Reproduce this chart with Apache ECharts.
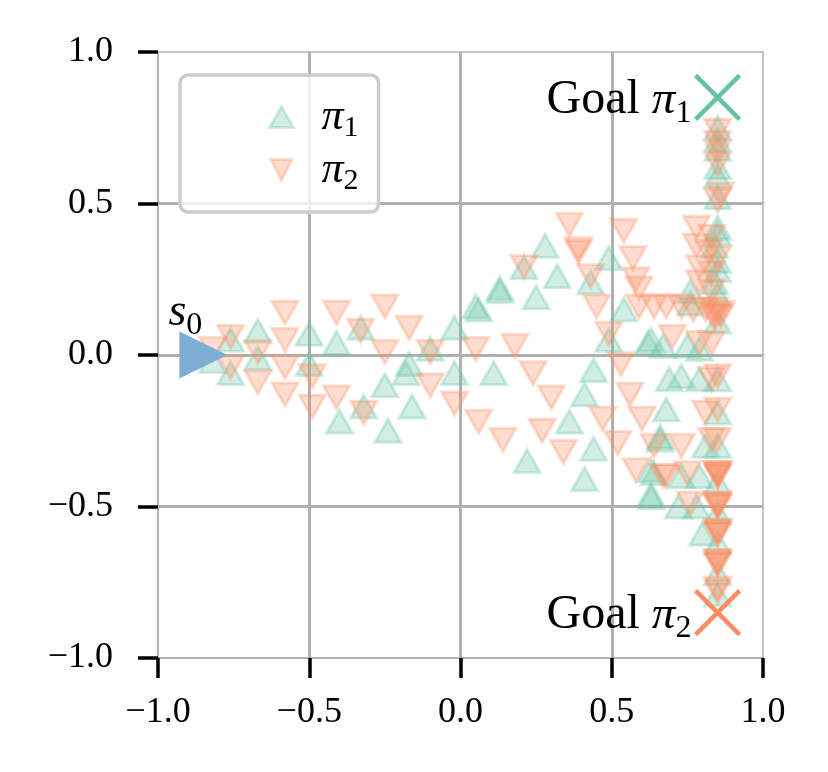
<!DOCTYPE html>
<html>
<head>
<meta charset="utf-8">
<script src="https://cdn.jsdelivr.net/npm/echarts@6/dist/echarts.min.js"></script>
<style>
  html, body { margin: 0; padding: 0; background: #fff; }
  #chart { width: 828px; height: 772px; }
</style>
</head>
<body>
<div id="chart"></div>
<script>
// states visited while following each policy, [x, y]
const policy1Points = [
    [-0.82, -0.02], [-0.76, 0.05], [-0.76, -0.06], [-0.67, 0.08], [-0.67, -0.01], [-0.50, 0.07], [-0.50, -0.03],
    [-0.41, 0.04], [-0.33, 0.09], [-0.25, -0.10], [-0.17, -0.03], [-0.18, -0.06], [-0.10, 0.02], [-0.02, 0.09],
    [-0.02, -0.06], [-0.40, -0.22], [-0.32, -0.17], [-0.16, -0.17], [-0.24, -0.25],
    [0.05, 0.16], [0.06, 0.15], [0.13, 0.22], [0.13, 0.21], [0.21, 0.29], [0.28, 0.36], [0.32, 0.26], [0.25, 0.19],
    [0.49, 0.32], [0.43, 0.24], [0.54, 0.15], [0.49, 0.05], [0.44, -0.05], [0.41, -0.13], [0.36, -0.22],
    [0.44, -0.31], [0.41, -0.41], [0.22, -0.35], [0.11, -0.06],
    [0.62, 0.04], [0.63, 0.05], [0.67, 0.03], [0.75, 0.03], [0.79, 0.02], [0.76, 0.21], [0.76, 0.17],
    [0.85, 0.20], [0.85, 0.11],
    [0.69, -0.08], [0.73, -0.07], [0.79, -0.08], [0.85, -0.08], [0.68, -0.18], [0.85, -0.19], [0.66, -0.27],
    [0.66, -0.28], [0.81, -0.30], [0.64, -0.39], [0.63, -0.38], [0.73, -0.40], [0.79, -0.40], [0.63, -0.46],
    [0.63, -0.47],
    [0.85, 0.75], [0.85, 0.71], [0.85, 0.68], [0.85, 0.62], [0.85, 0.59], [0.85, 0.52], [0.85, 0.42],
    [0.85, 0.40], [0.85, 0.31], [0.85, 0.28], [0.84, 0.36], [0.84, 0.24],
    [0.85, -0.52], [0.80, -0.59], [0.85, -0.62], [0.85, -0.72], [0.85, -0.79], [0.72, -0.50], [0.78, -0.50],
    [0.85, -0.30], [0.85, -0.42]
];

const policy2Points = [
    [-0.82, 0.02], [-0.76, 0.06], [-0.76, -0.04], [-0.67, 0.01], [-0.67, -0.09], [-0.58, 0.14], [-0.58, 0.05],
    [-0.58, -0.04], [-0.58, -0.13], [-0.49, -0.07], [-0.49, -0.17], [-0.41, 0.14], [-0.41, -0.14], [-0.33, 0.08],
    [-0.32, -0.19], [-0.25, 0.16], [-0.25, 0.01], [-0.17, 0.09], [-0.10, 0.01], [-0.10, -0.10], [-0.02, -0.16],
    [0.36, 0.43], [0.54, 0.41], [0.39, 0.34], [0.39, 0.35], [0.21, 0.29], [0.43, 0.26], [0.57, 0.32], [0.58, 0.25],
    [0.59, 0.22], [0.45, 0.16], [0.49, 0.07], [0.05, 0.02], [0.18, 0.03], [0.24, -0.06], [0.30, -0.14],
    [0.06, -0.22], [0.14, -0.28], [0.27, -0.25], [0.34, -0.32], [0.53, -0.03], [0.56, -0.13], [0.60, -0.21],
    [0.47, -0.21], [0.52, -0.29], [0.58, -0.38], [0.64, -0.30], [0.68, -0.40],
    [0.59, 0.16], [0.64, 0.16], [0.68, 0.16], [0.73, 0.16], [0.77, 0.15], [0.81, 0.15], [0.86, 0.14],
    [0.83, 0.21], [0.79, 0.24], [0.86, 0.13], [0.84, 0.12], [0.84, 0.15], [0.84, 0.13], [0.70, 0.06],
    [0.83, 0.04], [0.79, 0.04],
    [0.73, -0.30], [0.83, -0.08], [0.81, -0.19], [0.83, -0.28], [0.67, -0.40], [0.75, -0.39],
    [0.85, 0.74], [0.85, 0.70], [0.85, 0.67], [0.85, 0.63], [0.86, 0.53], [0.85, 0.51], [0.78, 0.42],
    [0.83, 0.39], [0.78, 0.36], [0.82, 0.34], [0.85, 0.32], [0.79, 0.29], [0.83, 0.27],
    [0.76, -0.49], [0.85, -0.07], [0.85, -0.18], [0.85, -0.28],
    [0.85, -0.39], [0.85, -0.39], [0.85, -0.39], [0.85, -0.40], [0.85, -0.40],
    [0.85, -0.50], [0.85, -0.50], [0.85, -0.49], [0.85, -0.49],
    [0.85, -0.59], [0.85, -0.59], [0.85, -0.58], [0.85, -0.58],
    [0.85, -0.69], [0.85, -0.68], [0.85, -0.68], [0.85, -0.69],
    [0.85, -0.77], [0.85, -0.78]
];

const startState = [[-0.85, 0.0]];
const goal1 = [[0.85, 0.85]];
const goal2 = [[0.85, -0.85]];

const GREEN = '#66c2a5';
const ORANGE = '#fc8d62';
const BLUE = '#7eaed4';
const SERIF = 'Liberation Serif';

const TRI_DOWN = 'path://M0,0L10,0L5,10Z';
const CROSS = 'path://M0,0L10,10M10,0L0,10';

const piRich = {
    gap: { width: 23 },
    t: { fontFamily: SERIF, fontSize: 48, color: '#000', lineHeight: 48 },
    pi: { fontFamily: SERIF, fontStyle: 'italic', fontSize: 47, color: '#000', lineHeight: 47 },
    sub: { fontFamily: SERIF, fontSize: 32, color: '#000', lineHeight: 32, padding: [26, 0, 0, 0] },
    s: { fontFamily: SERIF, fontStyle: 'italic', fontSize: 46, color: '#000', lineHeight: 46 }
};

const legendRich = {
    gap: { width: 23 },
    pi: { fontFamily: SERIF, fontStyle: 'italic', fontSize: 44, color: '#000', lineHeight: 44 },
    sub: { fontFamily: SERIF, fontSize: 30, color: '#000', lineHeight: 30, padding: [22, 0, 0, 0] }
};

const fmtTick = (v) => v.toFixed(1).replace('-', '\u2212');

const axisCommon = {
    type: 'value',
    min: -1,
    max: 1,
    interval: 0.5,
    axisLine: { show: true, onZero: false, lineStyle: { color: '#b0b0b0', width: 1.5 } },
    axisTick: { show: true, inside: false, length: 20, lineStyle: { color: '#000', width: 3.5 } },
    axisLabel: {
        formatter: fmtTick,
        fontFamily: SERIF,
        fontSize: 36,
        color: '#000'
    },
    splitLine: {
        show: true,
        showMinLine: false,
        showMaxLine: false,
        lineStyle: { color: '#b0b0b0', width: 3 }
    }
};

const chart = echarts.init(document.getElementById('chart'), null, { renderer: 'canvas' });

chart.setOption({
    animation: false,
    backgroundColor: '#fff',
    grid: {
        left: 158, right: 65, top: 52, bottom: 114,
        show: true, borderColor: '#b0b0b0', borderWidth: 1.5, backgroundColor: 'transparent'
    },
    xAxis: Object.assign({}, axisCommon, {
        axisLabel: Object.assign({}, axisCommon.axisLabel, { margin: 37 })
    }),
    yAxis: Object.assign({}, axisCommon, {
        axisLabel: Object.assign({}, axisCommon.axisLabel, { margin: 45 })
    }),
    legend: {
        data: [
            { name: 'π1', icon: 'triangle' },
            { name: 'π2', icon: TRI_DOWN }
        ],
        orient: 'vertical',
        left: 180,
        top: 75,
        padding: [16, 20, 16, 88],
        itemWidth: 24,
        itemHeight: 21,
        itemGap: 1,
        borderColor: '#cccccc',
        borderWidth: 3.5,
        borderRadius: 8,
        backgroundColor: 'rgba(255,255,255,0.8)',
        itemStyle: { borderWidth: 3 },
        formatter: (name) => '{gap|}{pi|π}{sub|' + name.slice(1) + '}',
        textStyle: { rich: legendRich }
    },
    series: [
        {
            name: 'π1',
            type: 'scatter',
            data: policy1Points,
            symbol: 'triangle',
            symbolSize: [26, 23],
            itemStyle: { color: GREEN, borderColor: GREEN, borderWidth: 3, opacity: 0.3 },
            z: 3
        },
        {
            name: 'π2',
            type: 'scatter',
            data: policy2Points,
            symbol: 'triangle',
            symbolRotate: 180,
            symbolSize: [26, 23],
            itemStyle: { color: ORANGE, borderColor: ORANGE, borderWidth: 3, opacity: 0.3 },
            z: 4
        },
        {
            name: 's0',
            type: 'scatter',
            data: startState,
            symbol: 'triangle',
            symbolRotate: -90,
            symbolSize: [47, 48],
            itemStyle: { color: BLUE, opacity: 1 },
            label: {
                show: true,
                position: 'top',
                distance: 0,
                offset: [-18, 4],
                color: '#000',
                formatter: '{s|s}{sub|0}',
                rich: piRich
            },
            z: 5
        },
        {
            name: 'goal1',
            type: 'scatter',
            data: goal1,
            symbol: CROSS,
            symbolSize: 44,
            itemStyle: { color: GREEN, borderColor: GREEN, borderWidth: 4.5, opacity: 1 },
            label: {
                show: true,
                position: 'left',
                distance: 2,
                offset: [0, 3],
                color: '#000',
                formatter: '{t|Goal }{pi|π}{sub|1}',
                rich: piRich
            },
            z: 6
        },
        {
            name: 'goal2',
            type: 'scatter',
            data: goal2,
            symbol: CROSS,
            symbolSize: 44,
            itemStyle: { color: ORANGE, borderColor: ORANGE, borderWidth: 4.5, opacity: 1 },
            label: {
                show: true,
                position: 'left',
                distance: 2,
                offset: [0, 3],
                color: '#000',
                formatter: '{t|Goal }{pi|π}{sub|2}',
                rich: piRich
            },
            z: 6
        }
    ]
});
</script>
</body>
</html>
